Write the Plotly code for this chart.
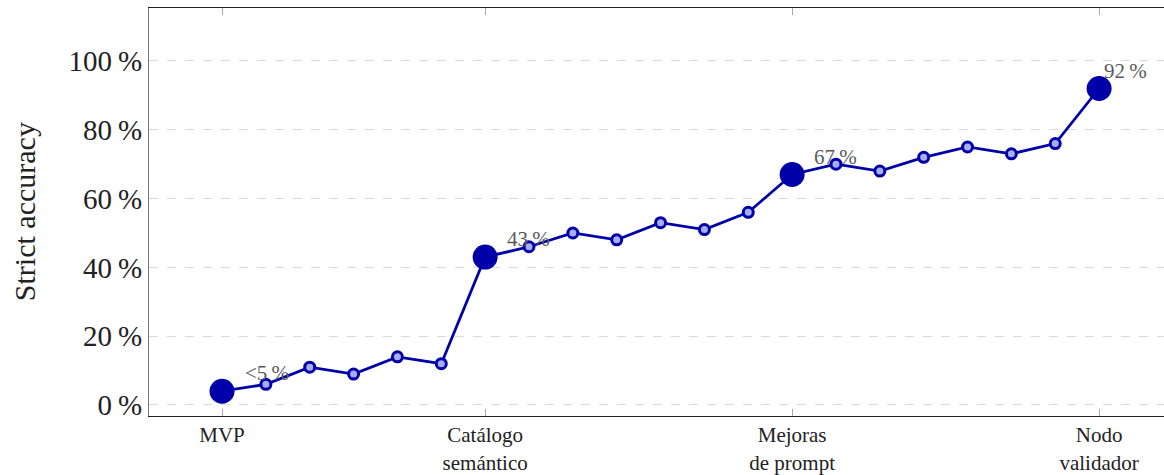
import plotly.graph_objects as go

steps = list(range(21))
accuracy = [4, 6, 11, 9, 14, 12, 43, 46, 50, 48, 53, 51, 56, 67, 70, 68, 72, 75, 73, 76, 92]
milestone_idx = [0, 6, 13, 20]
milestone_ticks = ["MVP", "Catálogo<br>semántico", "Mejoras<br>de prompt", "Nodo<br>validador"]
milestone_labels = ["<5\u2009%", "43\u2009%", "67\u2009%", "92\u2009%"]
y_ticks = [0, 20, 40, 60, 80, 100]
y_ticktext = [f"{v}\u2009%" for v in y_ticks]

FONT = "Liberation Serif"
BLUE = "#0000A8"

minor_x = [s for s in steps if s not in milestone_idx]
minor_y = [accuracy[s] for s in minor_x]
major_y = [accuracy[s] for s in milestone_idx]

fig = go.Figure()
fig.add_trace(go.Scatter(x=steps, y=accuracy, mode="lines",
                         line=dict(color=BLUE, width=2.8), hoverinfo="skip"))
fig.add_trace(go.Scatter(x=minor_x, y=minor_y, mode="markers",
                         marker=dict(size=10, color="#A8AEF5", line=dict(color=BLUE, width=3))))
fig.add_trace(go.Scatter(x=milestone_idx, y=major_y, mode="markers",
                         marker=dict(size=25, color=BLUE, line=dict(width=0))))

xshifts = [21, 20, 20, 3]
for i, (s, lab) in enumerate(zip(milestone_idx, milestone_labels)):
    fig.add_annotation(x=s, y=accuracy[s], text=lab, showarrow=False,
                       xanchor="left", yanchor="middle", xshift=xshifts[i], yshift=18,
                       font=dict(family=FONT, size=21, color="#5a5a5a"))

fig.add_annotation(text="Strict accuracy", xref="paper", yref="paper", x=-0.123, y=0.5,
                   textangle=-90, showarrow=False, xanchor="center", yanchor="middle",
                   font=dict(family=FONT, size=30, color="#222"))

fig.update_layout(
    width=1164, height=475,
    margin=dict(l=149, r=0, t=8, b=59),
    paper_bgcolor="white", plot_bgcolor="white",
    showlegend=False,
    font=dict(family=FONT, color="#222"),
)
fig.update_xaxes(range=[-1.665, 21.48], tickvals=milestone_idx, ticktext=milestone_ticks,
                 showgrid=False, zeroline=False, ticks="inside", ticklen=7, automargin=False,
                 tickcolor="#aaaaaa", tickfont=dict(family=FONT, size=21, color="#222"),
                 showline=True, linecolor="#222", linewidth=1.3, mirror="ticks")
fig.update_yaxes(range=[-3.2, 115.4], tickvals=y_ticks, ticktext=y_ticktext, automargin=False,
                 showgrid=True, gridcolor="#d9d9d9", griddash="dash", gridwidth=1.3,
                 zeroline=False, ticks="", tickfont=dict(family=FONT, size=29, color="#222"),
                 showline=True, linecolor="#777", linewidth=1.3, mirror=True)

fig.write_html("out.html", config={"displayModeBar": False},
               post_script="document.body.style.margin='0';document.body.style.overflow='hidden';")
